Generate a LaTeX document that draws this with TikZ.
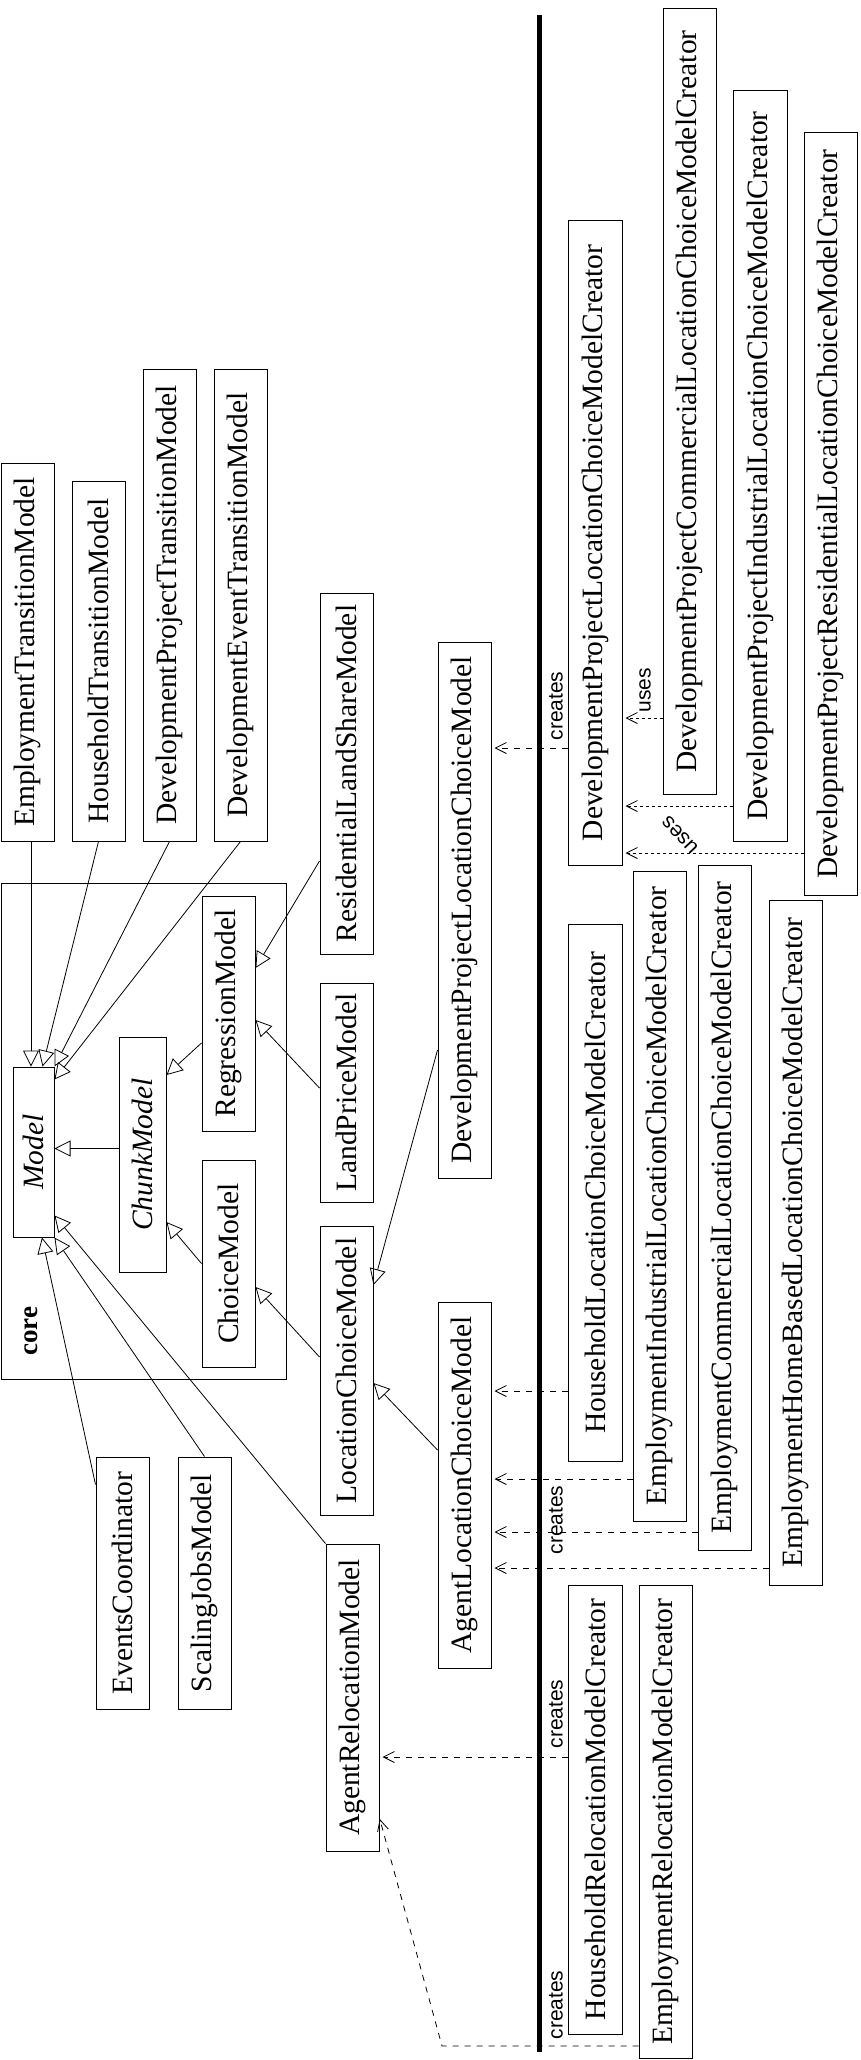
\documentclass[tikz,border=0pt]{standalone}
\usepackage{fontspec}
\setmainfont{Liberation Serif}
\newfontfamily\lblfont{Liberation Sans}
\usetikzlibrary{arrows.meta,calc}
\tikzset{
  cls/.style={draw, line width=1pt, inner sep=0pt, minimum width=53pt, font=\fontsize{29.5}{30}\selectfont},
  gen/.style={line width=0.8pt, -{Triangle[open,length=16pt,width=16pt,line width=0.8pt]}},
  creates/.style={line width=0.8pt, dash pattern=on 6pt off 6pt, -{Straight Barb[length=11pt,width=11pt,line width=0.8pt]}, shorten >=3pt},
  uses/.style={line width=0.8pt, dash pattern=on 2.5pt off 3.5pt, -{Straight Barb[length=11pt,width=11pt,line width=0.8pt]}, shorten >=3pt},
  lbl/.style={inner sep=0pt, font=\lblfont\fontsize{21}{22}\selectfont, rotate=90},
}
\begin{document}
\begin{tikzpicture}[x=1pt,y=-1pt]
\useasboundingbox (0,0) rectangle (860,2060);
% core package
\node[draw, line width=1pt, minimum width=285pt, minimum height=496pt, inner sep=0pt] (core) at (143.5,1131) {};
\node[inner sep=0pt, rotate=90, font=\bfseries\fontsize{27}{28}\selectfont] (corelbl) at (31,1331) {core};
% classes
\node[cls, minimum height=378pt] (etm) at (27.5,652) {\rotatebox{90}{EmploymentTransitionModel}};
\node[cls, minimum height=360pt] (htm) at (98.5,661) {\rotatebox{90}{HouseholdTransitionModel}};
\node[cls, minimum height=472pt] (dptm) at (169.5,605) {\rotatebox{90}{DevelopmentProjectTransitionModel}};
\node[cls, minimum height=472pt] (detm) at (240.5,605) {\rotatebox{90}{DevelopmentEventTransitionModel}};
\node[cls, minimum width=41pt, minimum height=170pt] (model) at (33.5,1152) {\rotatebox{90}{\itshape Model}};
\node[cls, minimum width=47pt, minimum height=235pt] (chunk) at (142.5,1154.5) {\rotatebox{90}{\itshape ChunkModel}};
\node[cls, minimum height=235pt] (regr) at (228.5,1013.5) {\rotatebox{90}{RegressionModel}};
\node[cls, minimum height=207pt] (choice) at (228.5,1263.5) {\rotatebox{90}{ChoiceModel}};
\node[cls, minimum height=361pt] (rlsm) at (346.5,773.5) {\rotatebox{90}{ResidentialLandShareModel}};
\node[cls, minimum height=219pt] (lpm) at (346.5,1092.5) {\rotatebox{90}{LandPriceModel}};
\node[cls, minimum height=289pt] (lcm) at (346.5,1370.5) {\rotatebox{90}{LocationChoiceModel}};
\node[cls, minimum height=252pt] (evc) at (122.5,1583) {\rotatebox{90}{EventsCoordinator}};
\node[cls, minimum height=252pt] (sjm) at (204.5,1583) {\rotatebox{90}{ScalingJobsModel}};
\node[cls, minimum height=307pt] (arm) at (352.5,1697.5) {\rotatebox{90}{AgentRelocationModel}};
\node[cls, minimum height=536pt] (dplcm) at (464.5,910) {\rotatebox{90}{DevelopmentProjectLocationChoiceModel}};
\node[cls, minimum height=366pt] (alcm) at (464.5,1485) {\rotatebox{90}{AgentLocationChoiceModel}};
% creators
\node[cls, minimum width=54pt, minimum height=644pt] (dplcmc) at (595,543) {\rotatebox{90}{DevelopmentProjectLocationChoiceModelCreator}};
\node[cls, minimum height=785pt] (dpcom) at (689.5,401.5) {\rotatebox{90}{DevelopmentProjectCommercialLocationChoiceModelCreator}};
\node[cls, minimum width=54pt, minimum height=750pt] (dpind) at (760,466) {\rotatebox{90}{DevelopmentProjectIndustrialLocationChoiceModelCreator}};
\node[cls, minimum height=762pt] (dpres) at (830.5,514) {\rotatebox{90}{DevelopmentProjectResidentialLocationChoiceModelCreator}};
\node[cls, minimum width=54pt, minimum height=537pt] (hlcmc) at (595,1192.5) {\rotatebox{90}{HouseholdLocationChoiceModelCreator}};
\node[cls, minimum height=650pt] (eilcmc) at (659.5,1196) {\rotatebox{90}{EmploymentIndustrialLocationChoiceModelCreator}};
\node[cls, minimum height=685pt] (eclcmc) at (724.5,1207.5) {\rotatebox{90}{EmploymentCommercialLocationChoiceModelCreator}};
\node[cls, minimum height=685pt] (ehblcmc) at (795.5,1242.5) {\rotatebox{90}{EmploymentHomeBasedLocationChoiceModelCreator}};
\node[cls, minimum width=54pt, minimum height=449pt] (hrmc) at (595,1809.5) {\rotatebox{90}{HouseholdRelocationModelCreator}};
\node[cls, minimum height=473pt] (ermc) at (665.5,1821.5) {\rotatebox{90}{EmploymentRelocationModelCreator}};
% separator
\coordinate (septop) at (539,15);
\coordinate (sepbot) at (539,2052);
\draw[line width=5pt] (septop) -- (sepbot);
% generalizations to Model
\draw[gen] ([xshift=3.5pt]etm.south) -- ([xshift=3.5pt]etm.south |- model.north);
\draw[gen] (htm.south) -- ([xshift=9pt]model.north);
\draw[gen] (dptm.south) -- (model.north east);
\draw[gen] (detm.south) -- ([yshift=-13pt]model.north east);
\draw[gen] ([yshift=6pt]chunk.west) -- ([yshift=6pt]chunk.west -| model.east);
\draw[gen] ([yshift=-28pt]evc.north west) -- ([xshift=8.5pt]model.south);
\draw[gen] (sjm.north) -- (model.south east);
\draw[gen] (arm.north west) -- ([yshift=22pt]model.south east);
% other generalizations
\draw[gen] (choice.west) -- ([yshift=-67.5pt]chunk.east);
\draw[gen] ([yshift=-29.5pt]regr.west) -- ([yshift=79.5pt]chunk.east);
\draw[gen] ([yshift=-87.5pt]rlsm.west) -- ([yshift=45.5pt]regr.east);
\draw[gen] ([yshift=4.5pt]lpm.west) -- ([yshift=-6.5pt]regr.east);
\draw[gen] ([yshift=13.5pt]lcm.west) -- ([yshift=-23.5pt]choice.east);
\draw[gen] ([yshift=35pt]alcm.west) -- ([yshift=-12.5pt]lcm.east);
\draw[gen] ([yshift=-140pt]dplcm.west) -- ([yshift=85.5pt]lcm.east);
% creates
\draw[creates] (dplcmc.west |- 0,748) -- (dplcm.east |- 0,748);
\draw[creates] (hlcmc.west |- 0,1391) -- (alcm.east |- 0,1391);
\draw[creates] (eilcmc.west |- 0,1479) -- (alcm.east |- 0,1479);
\draw[creates] (eclcmc.west |- 0,1532) -- (alcm.east |- 0,1532);
\draw[creates] (ehblcmc.west |- 0,1568) -- (alcm.east |- 0,1568);
\draw[creates] (hrmc.west |- 0,1757) -- (arm.east |- 0,1757);
\coordinate (ermcbend) at (442,2046);
\draw[creates, shorten >=1pt] (ermc.west |- 0,2046) -- (ermcbend) -- ([yshift=-120.5pt]arm.east);
% uses
\draw[uses] (dpcom.west |- 0,718) -- (dplcmc.east |- 0,718);
\draw[uses] (dpind.west |- 0,806) -- (dplcmc.east |- 0,806);
\draw[uses] (dpres.west |- 0,853) -- (dplcmc.east |- 0,853);
% labels
\node[lbl] (l1) at (556,706) {creates};
\node[lbl] (l2) at (556,1520) {creates};
\node[lbl] (l3) at (556,1714) {creates};
\node[lbl] (l4) at (556,2005) {creates};
\node[lbl] (u1) at (645,690) {uses};
\node[lbl, rotate=43] (u2) at (680,835) {uses};
\end{tikzpicture}
\end{document}
